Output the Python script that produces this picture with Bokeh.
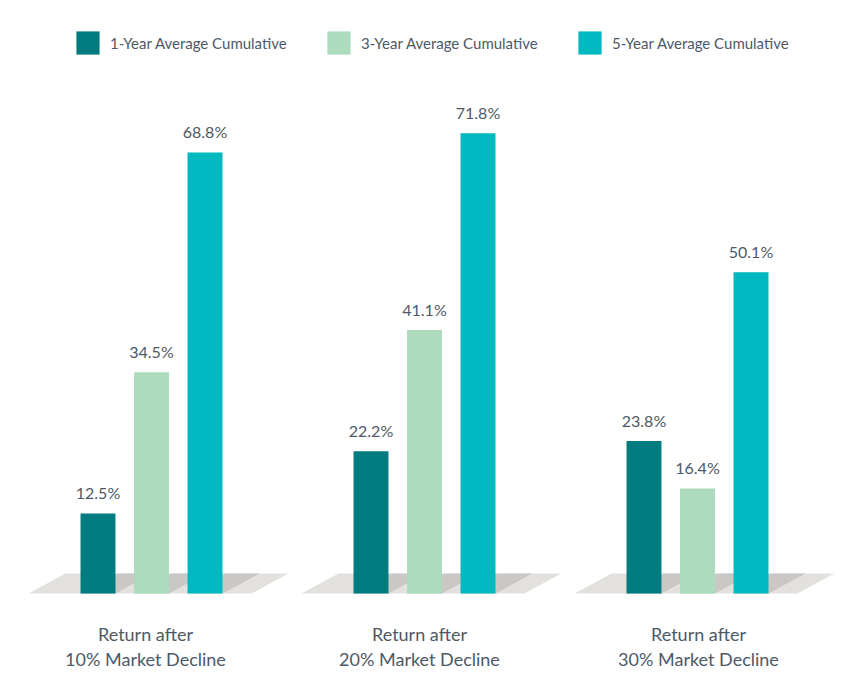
from bokeh.plotting import figure
from bokeh.models import ColumnDataSource, Range1d, LabelSet, Legend, LegendItem
from bokeh.core.properties import value
from bokeh.embed import file_html
from bokeh.resources import INLINE

# ---- data ----
groups = ["10%", "20%", "30%"]
line1 = ["Return after", "Return after", "Return after"]
line2 = ["10% Market Decline", "20% Market Decline", "30% Market Decline"]
series = ["1-Year Average Cumulative", "3-Year Average Cumulative", "5-Year Average Cumulative"]
one_year = [12.5, 22.2, 23.8]
three_year = [34.5, 41.1, 16.4]
five_year = [68.8, 71.8, 50.1]
values = [one_year, three_year, five_year]
colors = ["#007c80", "#addbbd", "#00b9c0"]

# ---- layout constants ----
W, H = 840, 677
offsets = [-0.196, 0.0, 0.196]
bar_w = 0.128
skew = 0.1355
floor_top = 3.12
label_nudge = [-6, -5, 1]   # px
FONT = "Lato"
TXT = "#4d5966"

p = figure(width=W, height=H, output_backend="svg", toolbar_location=None,
           x_range=Range1d(-0.5531, 2.5238), y_range=Range1d(-13.10, 92.51),
           min_border=0, outline_line_color=None)
p.axis.visible = False
p.grid.visible = False
p.background_fill_color = "white"
p.border_fill_color = "white"

xs = list(range(len(groups)))

# floors
fx, fy = [], []
for g in xs:
    fx.append([g - 0.4505, g + 0.366, g + 0.366 + skew, g - 0.4505 + skew])
    fy.append([0, 0, floor_top, floor_top])
p.patches(fx, fy, fill_color="#e2e1dd", line_color=None)

# shadows
sx, sy = [], []
for k in range(3):
    for g in xs:
        c = g + offsets[k]
        l, r = c - bar_w / 2, c + bar_w / 2
        sx.append([l, r, r + skew, l + skew])
        sy.append([0, 0, floor_top, floor_top])
p.patches(sx, sy, fill_color="#c9c8c4", line_color=None)

items = []
for k in range(3):
    src = ColumnDataSource(dict(x=[g + offsets[k] for g in xs], top=values[k],
                                lab=[f"{v:.1f}%" for v in values[k]]))
    r = p.vbar(x="x", top="top", bottom=0, width=bar_w, source=src,
               fill_color=colors[k], line_color=None)
    items.append(LegendItem(label=series[k], renderers=[r]))
    p.add_layout(LabelSet(x="x", y="top", text="lab", source=src, text_align="center",
                          text_baseline="alphabetic", y_offset=14, text_font=value(FONT),
                          text_font_size=value("16px"), text_color=TXT))

csrc = ColumnDataSource(dict(x=[g + offsets[1] for g in xs], y=[0] * 3, l1=line1, l2=line2,
                             dx=label_nudge))
p.add_layout(LabelSet(x="x", y="y", text="l1", source=csrc, text_align="center",
                      text_baseline="alphabetic", x_offset="dx", y_offset=-47,
                      text_font=value(FONT), text_font_size=value("18px"), text_color=TXT))
p.add_layout(LabelSet(x="x", y="y", text="l2", source=csrc, text_align="center",
                      text_baseline="alphabetic", x_offset="dx", y_offset=-72,
                      text_font=value(FONT), text_font_size=value("18px"), text_color=TXT))

legend = Legend(items=items, orientation="horizontal", location=(73, 616),
                glyph_width=29, glyph_height=29, label_standoff=8, label_width=200,
                label_height=37, spacing=14, padding=0, margin=0, border_line_color=None,
                background_fill_alpha=0, label_text_font=FONT,
                label_text_font_size="15px", label_text_color=TXT)
p.add_layout(legend)

open("out.html", "w").write(file_html(p, INLINE))
